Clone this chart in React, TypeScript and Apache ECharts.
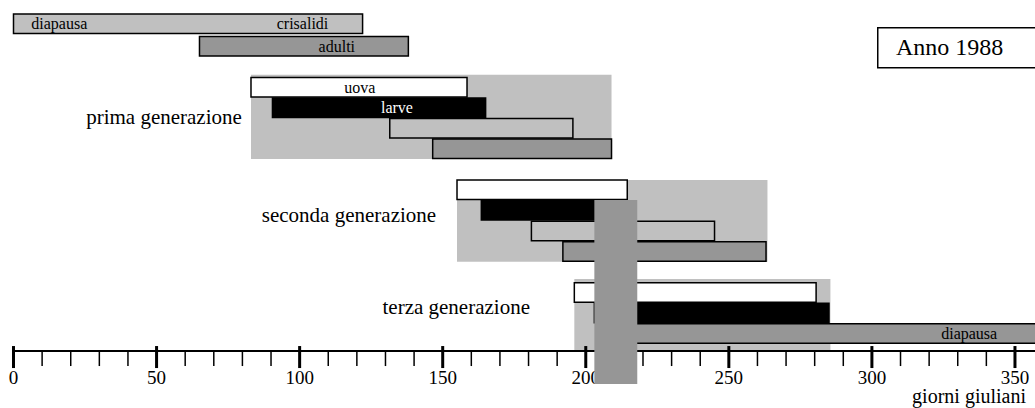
import React, { useEffect, useRef } from "react";
import * as echarts from "echarts";

const FONT = "Liberation Serif";

// x axis (giorni giuliani)
const X_MIN = 0;
const X_MAX = 357;
const TICK_STEP = 50;
const majorTicks = [0, 50, 100, 150, 200, 250, 300, 350];
const minorTicks = [10, 20, 30, 40, 60, 70, 80, 90, 110, 120, 130, 140, 160, 170, 180, 190, 210, 220, 230, 240, 260, 270, 280, 290, 310, 320, 330, 340];

// stage bars
const barStage = ["crisalidi", "adulti", "uova", "larve", "crisalidi", "adulti", "uova", "larve", "crisalidi", "adulti", "uova", "larve", "diapausa"];
const barStart = [0, 65, 83, 90.5, 131.5, 146.5, 155, 163.5, 181, 192, 196, 203, 205];
const barEnd = [122, 138, 158.5, 165, 195.5, 209, 214.5, 215, 245, 263, 280.5, 285, 370];
const barRow = [-0.1, 1, 3, 4, 5, 6, 8, 9, 10, 11, 13, 14, 15];

// texts inside bars
const labelText = ["diapausa", "crisalidi", "adulti", "uova", "larve", "diapausa"];
const labelDay = [16, 101, 113, 121, 134, 334];
const labelRow = [-0.1, -0.1, 1, 3, 4, 15];

// generations (shaded spans)
const genNames = ["prima generazione", "seconda generazione", "terza generazione"];
const genStart = [83, 155, 196];
const genEnd = [209, 263.5, 285.5];
const genTop = [2.86, 8.0, 12.82];
const genBottom = [6.97, 11.98, 16.3];
const genLabelDay = [79.8, 147.7, 180.5];
const genLabelRow = [4.92, 9.7, 14.2];

// overlay column
const overlayStart = [203];
const overlayEnd = [218];
const overlayTop = [8.97];
const overlayBottom = [17.94];

const ROW_MAX = 16.33;
const BAR_H = 0.95;

const stageFill: Record<string, string> = {
  uova: "#ffffff",
  larve: "#000000",
  crisalidi: "#c0c0c0",
  adulti: "#969696",
  diapausa: "#969696",
};

export default function App() {
  const ref = useRef<HTMLDivElement>(null);
  useEffect(() => {
    if (!ref.current) return;
    const chart = echarts.init(ref.current, undefined, { renderer: "svg" });
    const rowPx = 20.52;
    const rectSpan = (api: any, x0: number, x1: number, y0: number, y1: number) => {
      const a = api.coord([x0, y0]);
      const b = api.coord([x1, y1]);
      return { x: a[0], y: a[1], width: b[0] - a[0], height: b[1] - a[1] };
    };
    const textStyle = (text: string, size: number, fill: string, align: string) => ({
      text,
      fill,
      fontSize: size,
      fontFamily: FONT,
      align,
      verticalAlign: "middle",
    });
    chart.setOption({
      animation: false,
      grid: { left: 13.5, top: 15.95, right: 0, height: ROW_MAX * rowPx, containLabel: false },
      xAxis: {
        type: "value",
        min: X_MIN,
        max: X_MAX,
        interval: TICK_STEP,
        position: "bottom",
        z: 3,
        splitLine: { show: false },
        axisLine: { show: true, onZero: false, lineStyle: { color: "#000", width: 2 } },
        axisTick: { show: false },
        minorTick: { show: false },
        axisLabel: { color: "#000", fontSize: 19, fontFamily: FONT, margin: 17, showMaxLabel: false },
      },
      yAxis: { type: "value", min: 0, max: ROW_MAX, inverse: true, show: false },
      series: [
        {
          type: "custom",
          z: 1,
          data: genStart.map((s, i) => [s, genEnd[i], genTop[i], genBottom[i]]),
          renderItem: (params: any, api: any) => ({
            type: "rect",
            shape: rectSpan(api, api.value(0), api.value(1), api.value(2), api.value(3)),
            style: { fill: "#c0c0c0" },
          }),
        },
        {
          type: "custom",
          z: 2,
          data: genNames.map((n, i) => [genLabelDay[i], genLabelRow[i]]),
          renderItem: (params: any, api: any) => {
            const p = api.coord([api.value(0), api.value(1)]);
            return {
              type: "text",
              x: p[0],
              y: p[1],
              style: textStyle(genNames[params.dataIndex], 21, "#000", "right"),
            };
          },
        },
        {
          type: "custom",
          z: 2,
          data: barStart.map((s, i) => [s, barEnd[i], barRow[i]]),
          renderItem: (params: any, api: any) => {
            const r = api.value(2);
            return {
              type: "rect",
              shape: rectSpan(api, api.value(0), api.value(1), r, r + BAR_H),
              style: { fill: stageFill[barStage[params.dataIndex]], stroke: "#000", lineWidth: 1.5 },
            };
          },
        },
        {
          type: "custom",
          z: 4,
          data: labelText.map((t, i) => [labelDay[i], labelRow[i]]),
          renderItem: (params: any, api: any) => {
            const p = api.coord([api.value(0), api.value(1) + BAR_H / 2]);
            const t = labelText[params.dataIndex];
            return {
              type: "text",
              x: p[0],
              y: p[1],
              style: textStyle(t, 16, t === "larve" ? "#fff" : "#000", "center"),
            };
          },
        },
        {
          // major ticks: 5px above and 17px below the axis line
          type: "custom",
          z: 5,
          data: majorTicks.map((v) => [v]),
          renderItem: (params: any, api: any) => {
            const p = api.coord([api.value(0), ROW_MAX]);
            return {
              type: "line",
              shape: { x1: p[0], y1: p[1] - 5, x2: p[0], y2: p[1] + 17 },
              style: { stroke: "#000", lineWidth: 3 },
            };
          },
        },
        {
          // minor ticks below the axis line
          type: "custom",
          z: 5,
          data: minorTicks.map((v) => [v]),
          renderItem: (params: any, api: any) => {
            const p = api.coord([api.value(0), ROW_MAX]);
            return {
              type: "line",
              shape: { x1: p[0], y1: p[1], x2: p[0], y2: p[1] + 15 },
              style: { stroke: "#000", lineWidth: 1.5 },
            };
          },
        },
        {
          type: "custom",
          z: 10,
          data: overlayStart.map((s, i) => [s, overlayEnd[i], overlayTop[i], overlayBottom[i]]),
          renderItem: (params: any, api: any) => ({
            type: "rect",
            shape: rectSpan(api, api.value(0), api.value(1), api.value(2), api.value(3)),
            style: { fill: "#969696" },
          }),
        },
      ],
      graphic: [
        {
          type: "rect",
          left: 877,
          top: 27,
          shape: { width: 170, height: 40 },
          style: { fill: "#fff", stroke: "#000", lineWidth: 1.5 },
        },
        {
          type: "text",
          left: 896,
          top: 35,
          style: { text: "Anno 1988", fill: "#000", fontSize: 24, fontFamily: FONT },
        },
        {
          type: "text",
          right: 9,
          top: 386,
          style: { text: "giorni giuliani", fill: "#000", fontSize: 20, fontFamily: FONT },
        },
      ],
    });
    return () => chart.dispose();
  }, []);
  return <div ref={ref} style={{ position: "absolute", left: 0, top: 0, width: 1035, height: 408 }} />;
}
